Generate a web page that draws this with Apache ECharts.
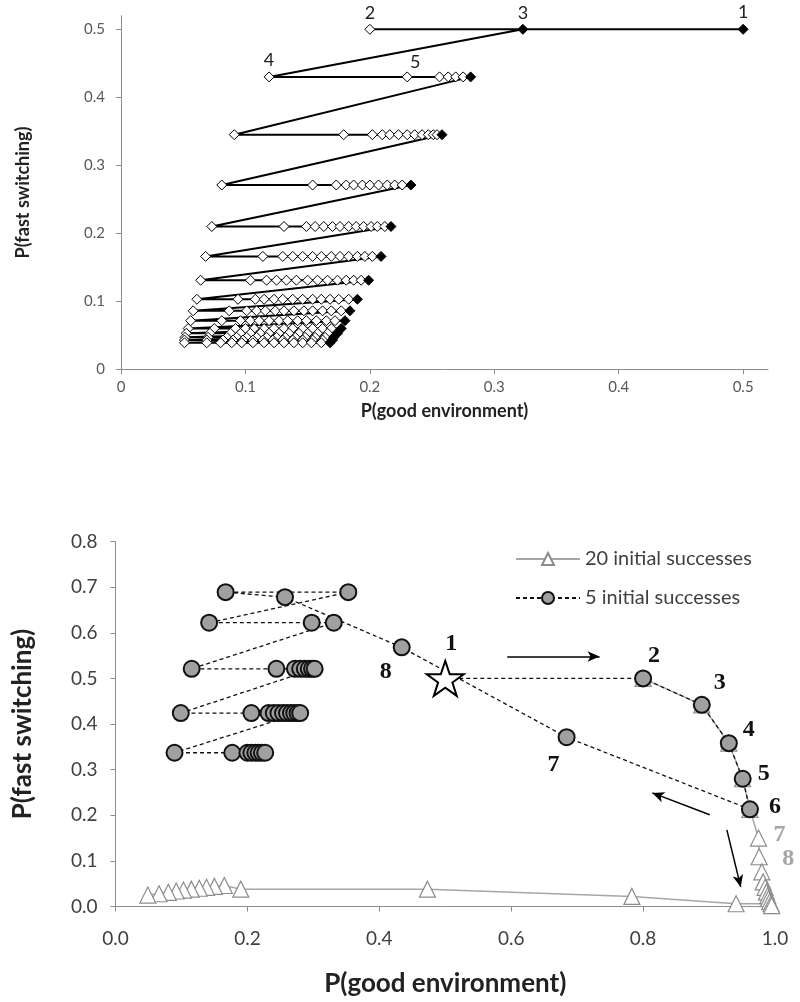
<!DOCTYPE html>
<html>
<head>
<meta charset="utf-8">
<script src="https://cdn.jsdelivr.net/npm/echarts@6.0.0/dist/echarts.min.js"></script>
<style>
html,body{margin:0;padding:0;background:#fff;}
#chart{width:800px;height:1002px;}
</style>
</head>
<body>
<div id="chart"></div>
<script>
// ---------- Top chart data ----------
const topRowY = [0.5, 0.43, 0.345, 0.271, 0.21, 0.166, 0.131, 0.103, 0.086, 0.0715, 0.060, 0.053, 0.047, 0.043, 0.039];
const topRowX = [
  [0.5, 0.2, 0.323],
  [0.119, 0.230, 0.256, 0.263, 0.269, 0.275, 0.281],
  [0.091, 0.179, 0.202, 0.210, 0.216, 0.223, 0.230, 0.236, 0.242, 0.247, 0.251, 0.254, 0.258],
  [0.081, 0.154, 0.173, 0.181, 0.187, 0.194, 0.200, 0.207, 0.214, 0.220, 0.226, 0.233],
  [0.073, 0.131, 0.149, 0.156, 0.163, 0.170, 0.176, 0.183, 0.189, 0.195, 0.201, 0.206, 0.212, 0.217],
  [0.068, 0.114, 0.130, 0.138, 0.146, 0.154, 0.161, 0.169, 0.176, 0.183, 0.190, 0.196, 0.202, 0.209],
  [0.064, 0.104, 0.117, 0.125, 0.133, 0.141, 0.150, 0.158, 0.166, 0.174, 0.181, 0.187, 0.193, 0.199],
  [0.061, 0.094, 0.108, 0.115, 0.123, 0.130, 0.138, 0.146, 0.154, 0.161, 0.168, 0.175, 0.183, 0.190],
  [0.058, 0.087, 0.101, 0.109, 0.116, 0.124, 0.131, 0.139, 0.147, 0.154, 0.162, 0.169, 0.177, 0.184],
  [0.056, 0.081, 0.096, 0.104, 0.111, 0.119, 0.127, 0.134, 0.142, 0.149, 0.157, 0.165, 0.172, 0.180],
  [0.054, 0.075, 0.092, 0.100, 0.107, 0.115, 0.123, 0.131, 0.138, 0.146, 0.154, 0.162, 0.169, 0.177],
  [0.0525, 0.0715, 0.088, 0.096, 0.104, 0.112, 0.119, 0.127, 0.135, 0.143, 0.150, 0.158, 0.166, 0.174],
  [0.0515, 0.070, 0.085, 0.093, 0.101, 0.109, 0.117, 0.125, 0.132, 0.140, 0.148, 0.156, 0.164, 0.171],
  [0.051, 0.069, 0.082, 0.090, 0.098, 0.106, 0.114, 0.122, 0.130, 0.138, 0.146, 0.154, 0.162, 0.170],
  [0.051, 0.069, 0.080, 0.089, 0.097, 0.106, 0.115, 0.123, 0.131, 0.139, 0.146, 0.153, 0.161, 0.168]
];
const topLabels = ['1', '2', '3', '4', '5'];
const topXTicks = [0, 0.1, 0.2, 0.3, 0.4, 0.5];
const topYTicks = [0, 0.1, 0.2, 0.3, 0.4, 0.5];

// ---------- Bottom chart data ----------
const seriesNames = ['20 initial successes', '5 initial successes'];
const triX = [0.8, 0.889, 0.930, 0.951, 0.962, 0.975, 0.976, 0.980, 0.982, 0.985, 0.987, 0.989, 0.990, 0.992, 0.994, 0.995, 0.941, 0.783, 0.473, 0.190, 0.165, 0.150, 0.138, 0.127, 0.115, 0.103, 0.092, 0.080, 0.066, 0.049];
const triY = [0.5, 0.442, 0.358, 0.280, 0.213, 0.150, 0.109, 0.076, 0.054, 0.042, 0.032, 0.024, 0.017, 0.011, 0.006, 0.002, 0.006, 0.022, 0.038, 0.038, 0.046, 0.044, 0.042, 0.040, 0.038, 0.036, 0.034, 0.031, 0.028, 0.025];
const triLabels = {5: '7', 6: '8'};
const circX = [0.5, 0.8, 0.889, 0.930, 0.951, 0.962, 0.684, 0.434, 0.257, 0.167, 0.353, 0.142, 0.2975, 0.331,
  0.1155, 0.244, 0.272, 0.280, 0.287, 0.293, 0.298, 0.302,
  0.099, 0.206, 0.232, 0.240, 0.247, 0.254, 0.260, 0.266, 0.271, 0.276, 0.280,
  0.0895, 0.177, 0.200, 0.206, 0.212, 0.217, 0.222, 0.227];
const circY = [0.5, 0.5, 0.442, 0.358, 0.280, 0.213, 0.371, 0.568, 0.678, 0.689, 0.689, 0.622, 0.622, 0.622,
  0.521, 0.521, 0.521, 0.521, 0.521, 0.521, 0.521, 0.521,
  0.424, 0.424, 0.424, 0.424, 0.424, 0.424, 0.424, 0.424, 0.424, 0.424, 0.424,
  0.337, 0.337, 0.337, 0.337, 0.337, 0.337, 0.337, 0.337];
const circLabels = {0: '1', 1: '2', 2: '3', 3: '4', 4: '5', 5: '6', 6: '7', 7: '8'};
const arrows = [
  [[0.594, 0.548], [0.734, 0.548]],
  [[0.901, 0.201], [0.814, 0.249]],
  [[0.927, 0.168], [0.948, 0.043]]
];
const botXTicks = [0, 0.2, 0.4, 0.6, 0.8, 1.0];
const botYTicks = [0, 0.1, 0.2, 0.3, 0.4, 0.5, 0.6, 0.7, 0.8];

// ---------- build ----------
const FONT = 'Lato, "Open Sans", sans-serif';
const SERIF = '"Liberation Serif", "DejaVu Serif", serif';

const topOffsets = [[0, -17], [0, -16], [0, -16], [0, -17], [8, -15]];
const topData = [];
topRowX.forEach((row, r) => {
  row.forEach((x, i) => {
    const black = (i === row.length - 1) || (r === 0 && i === 0);
    const item = {
      value: [x, topRowY[r]],
      itemStyle: black ? {color: '#000', borderColor: '#000'} : {color: '#fff', borderColor: '#000'}
    };
    const k = topData.length;
    if (k < topLabels.length) {
      item.label = {show: true, position: 'inside', offset: topOffsets[k], formatter: topLabels[k],
        fontSize: 18, color: '#222', fontFamily: FONT};
    }
    topData.push(item);
  });
});

const circOffsets = {0: [6, -35], 1: [11, -23], 2: [18, -22], 3: [20, -13], 4: [21, -5], 5: [25, -3], 6: [-13, 28], 7: [-16, 24]};
const circData = circX.map((x, i) => {
  const item = {value: [x, circY[i]]};
  if (i === 0) {
    item.symbol = 'path://M50,0 L61.8,35.4 L98.9,35.4 L68.9,57.3 L80.3,92.7 L50,70.8 L19.7,92.7 L31.1,57.3 L1.1,35.4 L38.2,35.4 Z';
    item.symbolSize = 37;
    item.symbolKeepAspect = true;
    item.itemStyle = {color: '#fff', borderColor: '#000', borderWidth: 2};
  }
  if (circLabels[i] !== undefined) {
    item.label = {show: true, position: 'inside', offset: circOffsets[i], formatter: circLabels[i],
      fontSize: 24, fontWeight: 'bold', color: '#111', fontFamily: SERIF};
  }
  return item;
});

const triOffsets = {5: [21, -3], 6: [29, 2]};
const triData = triX.map((x, i) => {
  const item = {value: [x, triY[i]]};
  if (triLabels[i] !== undefined) {
    item.label = {show: true, position: 'inside', offset: triOffsets[i], formatter: triLabels[i],
      fontSize: 24, fontWeight: 'bold', color: '#a6a6a6', fontFamily: SERIF};
  }
  return item;
});

const axisLineGray = {show: true, lineStyle: {color: '#8c8c8c', width: 1}};
const fmtTop = v => (v === 0 ? '0' : String(+v.toFixed(1)));
const fmtBot = v => v.toFixed(1);

const option = {
  animation: false,
  backgroundColor: '#fff',
  grid: [
    {left: 121, top: 15.7, width: 647, height: 353.6},
    {left: 115.5, top: 541.5, width: 659.5, height: 365}
  ],
  legend: {
    data: seriesNames,
    orient: 'vertical',
    left: 510, top: 544,
    itemWidth: 64, itemHeight: 15, itemGap: 19,
    textStyle: {fontSize: 20, color: '#404040', fontFamily: FONT}
  },
  xAxis: [
    {
      gridIndex: 0, type: 'value', min: 0, max: 0.52, interval: 0.1,
      axisLine: axisLineGray, splitLine: {show: false},
      axisTick: {show: true, length: 5, lineStyle: {color: '#8c8c8c'}, customValues: topXTicks},
      axisLabel: {customValues: topXTicks, formatter: fmtTop, margin: 10, fontSize: 15, color: '#595959', fontFamily: FONT},
      name: 'P(good environment)', nameLocation: 'middle', nameGap: 33,
      nameTextStyle: {fontSize: 18, fontWeight: 'bold', color: '#222', fontFamily: FONT}
    },
    {
      gridIndex: 1, type: 'value', min: 0, max: 1, interval: 0.2,
      axisLine: axisLineGray, splitLine: {show: false},
      axisTick: {show: true, length: 5, lineStyle: {color: '#8c8c8c'}, customValues: botXTicks},
      axisLabel: {customValues: botXTicks, formatter: fmtBot, margin: 23, fontSize: 19, color: '#404040', fontFamily: FONT},
      name: 'P(good environment)', nameLocation: 'middle', nameGap: 64,
      nameTextStyle: {fontSize: 26, fontWeight: 'bold', color: '#222', fontFamily: FONT}
    }
  ],
  yAxis: [
    {
      gridIndex: 0, type: 'value', min: 0, max: 0.52, interval: 0.1,
      axisLine: axisLineGray, splitLine: {show: false},
      axisTick: {show: true, length: 5, lineStyle: {color: '#8c8c8c'}, customValues: topYTicks},
      axisLabel: {customValues: topYTicks, formatter: fmtTop, margin: 16, fontSize: 15, color: '#595959', fontFamily: FONT},
      name: 'P(fast switching)', nameLocation: 'middle', nameGap: 89,
      nameTextStyle: {fontSize: 18, fontWeight: 'bold', color: '#222', fontFamily: FONT}
    },
    {
      gridIndex: 1, type: 'value', min: 0, max: 0.8, interval: 0.1,
      axisLine: axisLineGray, splitLine: {show: false},
      axisTick: {show: true, length: 5, lineStyle: {color: '#8c8c8c'}, customValues: botYTicks},
      axisLabel: {customValues: botYTicks, formatter: fmtBot, margin: 18, fontSize: 19, color: '#404040', fontFamily: FONT},
      name: 'P(fast switching)', nameLocation: 'middle', nameGap: 80,
      nameTextStyle: {fontSize: 26, fontWeight: 'bold', color: '#222', fontFamily: FONT}
    }
  ],
  series: [
    {
      type: 'line', xAxisIndex: 0, yAxisIndex: 0,
      data: topData,
      symbol: 'diamond', symbolSize: 10,
      lineStyle: {color: '#000', width: 2},
      itemStyle: {color: '#fff', borderColor: '#000', borderWidth: 1},
      z: 3
    },
    {
      name: seriesNames[0],
      type: 'line', xAxisIndex: 1, yAxisIndex: 1,
      data: triData,
      symbol: 'triangle', symbolSize: 16,
      lineStyle: {color: '#a6a6a6', width: 1.5},
      itemStyle: {color: '#fff', borderColor: '#8c8c8c', borderWidth: 1.2},
      z: 2
    },
    {
      name: seriesNames[1],
      type: 'line', xAxisIndex: 1, yAxisIndex: 1,
      data: circData,
      symbol: 'circle', symbolSize: 16,
      lineStyle: {color: '#111', width: 1.3, type: [4, 3]},
      itemStyle: {color: '#a0a0a0', borderColor: '#111', borderWidth: 2},
      z: 4,
      markLine: {
        silent: true,
        symbol: ['none', 'arrow'],
        symbolSize: [8, 12],
        label: {show: false},
        lineStyle: {color: '#000', width: 1.5, type: 'solid'},
        data: arrows.map(a => [{coord: a[0]}, {coord: a[1]}])
      }
    }
  ]
};

const chart = echarts.init(document.getElementById('chart'), null, {renderer: 'canvas'});
chart.setOption(option);
</script>
</body>
</html>
